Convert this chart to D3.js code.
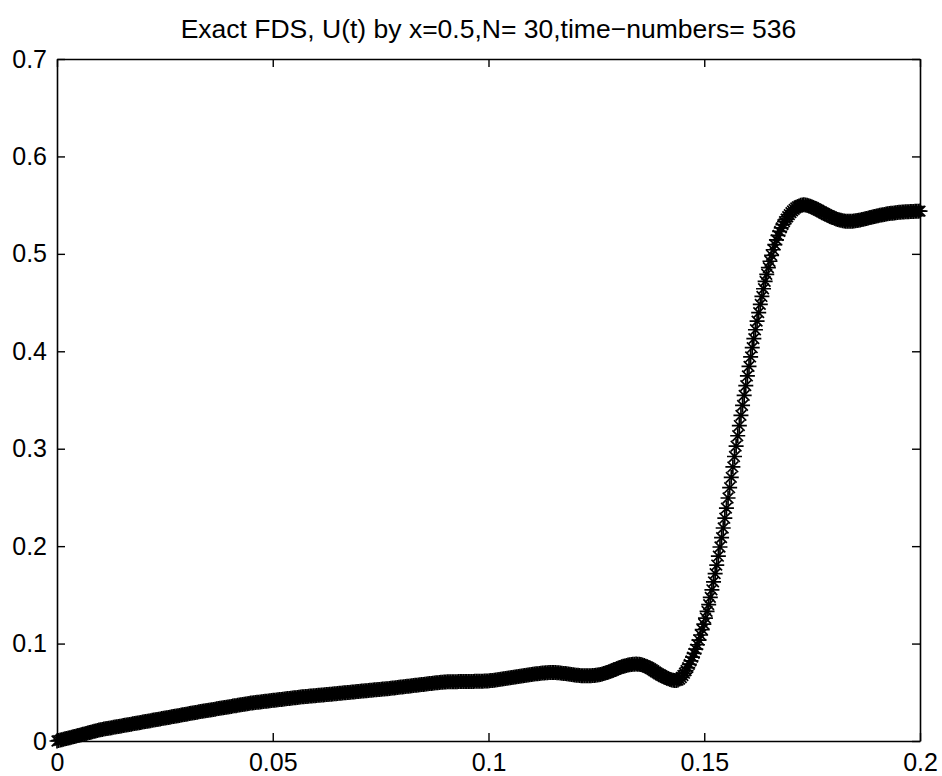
<!DOCTYPE html>
<html>
<head>
<meta charset="utf-8">
<script src="https://cdn.jsdelivr.net/npm/d3@7"></script>
<style>
  html, body { margin: 0; padding: 0; background: #fff; }
  svg { display: block; }
  text { font-family: "Liberation Sans", Arial, Helvetica, sans-serif; fill: #000; }
</style>
</head>
<body>
<svg id="chart" width="942" height="776"></svg>
<script>
// Solution U(t) at x = 0.5, sampled on 536 equally spaced time levels over [0, 0.2]
const timeNumbers = 536;
const tEnd = 0.2;

const uValues = [
  0.0000,0.0004,0.0009,0.0013,0.0017,0.0022,0.0026,0.0030,0.0034,0.0039,
  0.0043,0.0047,0.0052,0.0056,0.0060,0.0065,0.0069,0.0073,0.0077,0.0082,
  0.0086,0.0090,0.0095,0.0099,0.0103,0.0108,0.0112,0.0116,0.0119,0.0122,
  0.0125,0.0128,0.0131,0.0134,0.0137,0.0140,0.0143,0.0146,0.0149,0.0152,
  0.0155,0.0158,0.0161,0.0164,0.0167,0.0170,0.0173,0.0176,0.0179,0.0182,
  0.0185,0.0188,0.0191,0.0194,0.0197,0.0200,0.0203,0.0206,0.0209,0.0212,
  0.0215,0.0218,0.0221,0.0224,0.0227,0.0230,0.0233,0.0236,0.0239,0.0242,
  0.0245,0.0248,0.0251,0.0254,0.0257,0.0260,0.0263,0.0266,0.0269,0.0272,
  0.0275,0.0278,0.0281,0.0284,0.0287,0.0290,0.0293,0.0296,0.0299,0.0302,
  0.0305,0.0307,0.0310,0.0313,0.0316,0.0319,0.0321,0.0324,0.0327,0.0330,
  0.0333,0.0335,0.0338,0.0341,0.0344,0.0347,0.0349,0.0352,0.0355,0.0358,
  0.0361,0.0363,0.0366,0.0369,0.0372,0.0375,0.0377,0.0380,0.0383,0.0386,
  0.0389,0.0391,0.0393,0.0395,0.0397,0.0399,0.0401,0.0403,0.0405,0.0407,
  0.0409,0.0411,0.0413,0.0415,0.0417,0.0419,0.0421,0.0423,0.0425,0.0427,
  0.0429,0.0431,0.0433,0.0435,0.0437,0.0439,0.0441,0.0443,0.0445,0.0447,
  0.0449,0.0451,0.0453,0.0454,0.0456,0.0457,0.0459,0.0461,0.0462,0.0464,
  0.0465,0.0467,0.0469,0.0470,0.0472,0.0473,0.0475,0.0477,0.0478,0.0480,
  0.0481,0.0483,0.0485,0.0486,0.0488,0.0489,0.0491,0.0493,0.0494,0.0496,
  0.0497,0.0499,0.0501,0.0502,0.0504,0.0505,0.0507,0.0509,0.0510,0.0512,
  0.0513,0.0515,0.0517,0.0518,0.0520,0.0521,0.0523,0.0525,0.0526,0.0528,
  0.0529,0.0531,0.0533,0.0534,0.0536,0.0537,0.0539,0.0541,0.0543,0.0545,
  0.0547,0.0549,0.0551,0.0553,0.0555,0.0557,0.0559,0.0561,0.0563,0.0565,
  0.0567,0.0569,0.0571,0.0573,0.0575,0.0577,0.0579,0.0581,0.0583,0.0585,
  0.0587,0.0589,0.0591,0.0593,0.0595,0.0597,0.0599,0.0601,0.0603,0.0604,
  0.0605,0.0606,0.0607,0.0607,0.0608,0.0608,0.0609,0.0609,0.0609,0.0610,
  0.0610,0.0610,0.0610,0.0610,0.0611,0.0611,0.0611,0.0611,0.0611,0.0612,
  0.0612,0.0612,0.0613,0.0613,0.0614,0.0615,0.0616,0.0617,0.0618,0.0620,
  0.0622,0.0624,0.0626,0.0628,0.0631,0.0633,0.0636,0.0638,0.0641,0.0643,
  0.0646,0.0649,0.0651,0.0654,0.0657,0.0659,0.0662,0.0665,0.0667,0.0670,
  0.0672,0.0675,0.0677,0.0680,0.0682,0.0685,0.0687,0.0689,0.0691,0.0693,
  0.0695,0.0697,0.0699,0.0700,0.0701,0.0702,0.0703,0.0703,0.0703,0.0702,
  0.0701,0.0700,0.0698,0.0696,0.0694,0.0692,0.0690,0.0687,0.0685,0.0682,
  0.0680,0.0678,0.0676,0.0674,0.0672,0.0671,0.0670,0.0669,0.0669,0.0669,
  0.0670,0.0671,0.0673,0.0673,0.0675,0.0677,0.0680,0.0683,0.0687,0.0692,
  0.0697,0.0702,0.0708,0.0715,0.0721,0.0728,0.0735,0.0742,0.0749,0.0755,
  0.0761,0.0766,0.0771,0.0776,0.0780,0.0783,0.0786,0.0788,0.0789,0.0790,
  0.0789,0.0787,0.0784,0.0780,0.0774,0.0767,0.0760,0.0752,0.0743,0.0732,
  0.0721,0.0710,0.0699,0.0688,0.0680,0.0670,0.0661,0.0653,0.0645,0.0638,
  0.0632,0.0627,0.0624,0.0622,0.0622,0.0626,0.0636,0.0652,0.0672,0.0696,
  0.0723,0.0753,0.0786,0.0822,0.0860,0.0900,0.0942,0.0988,0.1036,0.1088,
  0.1143,0.1200,0.1262,0.1330,0.1400,0.1474,0.1552,0.1633,0.1718,0.1806,
  0.1897,0.1991,0.2087,0.2186,0.2287,0.2390,0.2494,0.2600,0.2706,0.2813,
  0.2920,0.3027,0.3133,0.3238,0.3342,0.3445,0.3547,0.3648,0.3747,0.3845,
  0.3942,0.4037,0.4130,0.4221,0.4310,0.4397,0.4481,0.4563,0.4642,0.4718,
  0.4790,0.4859,0.4924,0.4985,0.5042,0.5095,0.5144,0.5189,0.5230,0.5267,
  0.5300,0.5330,0.5357,0.5381,0.5403,0.5423,0.5441,0.5457,0.5471,0.5483,
  0.5492,0.5498,0.5502,0.5503,0.5502,0.5499,0.5494,0.5488,0.5481,0.5473,
  0.5465,0.5457,0.5448,0.5439,0.5430,0.5421,0.5412,0.5403,0.5395,0.5387,
  0.5379,0.5372,0.5365,0.5359,0.5353,0.5348,0.5344,0.5340,0.5337,0.5335,
  0.5334,0.5334,0.5334,0.5335,0.5337,0.5339,0.5342,0.5345,0.5348,0.5352,
  0.5356,0.5360,0.5364,0.5368,0.5372,0.5376,0.5380,0.5384,0.5388,0.5392,
  0.5396,0.5399,0.5402,0.5405,0.5408,0.5411,0.5414,0.5416,0.5418,0.5420,
  0.5422,0.5424,0.5426,0.5428,0.5429,0.5430,0.5431,0.5432,0.5433,0.5434,
  0.5435,0.5436,0.5437,0.5438,0.5438,0.5439
];

// time levels t_k = k * tEnd / (timeNumbers - 1)
const tValues = d3.range(timeNumbers).map(k => k * tEnd / (timeNumbers - 1));

const xTicks = [0, 0.05, 0.1, 0.15, 0.2];
const xTickLabels = ["0", "0.05", "0.1", "0.15", "0.2"];
const yTicks = [0, 0.1, 0.2, 0.3, 0.4, 0.5, 0.6, 0.7];
const yTickLabels = ["0", "0.1", "0.2", "0.3", "0.4", "0.5", "0.6", "0.7"];
const titleText = "Exact FDS, U(t) by x=0.5,N= 30,time\u2212numbers= 536";

const svg = d3.select("#chart");
const box = { left: 57, right: 920, top: 59, bottom: 741 };

const x = d3.scaleLinear().domain([0, 0.2]).range([box.left, box.right]);
const y = d3.scaleLinear().domain([0, 0.7]).range([box.bottom, box.top]);

const fontSize = 25;
const titleSize = 26.5;
const tickLen = 8;

// markers: MATLAB-style asterisk (+ and x overlaid)
const r = 7.5, d = 5.3;
const asterisk = `M${-r},0H${r}M0,${-r}V${r}M${-d},${-d}L${d},${d}M${-d},${d}L${d},${-d}`;

const points = tValues.map((t, i) => ({ t, u: uValues[i] }));

svg.append("defs").append("clipPath").attr("id", "plotbox")
  .append("rect")
  .attr("x", box.left - 10).attr("y", box.top)
  .attr("width", box.right - box.left + 20).attr("height", box.bottom - box.top + 12);

svg.append("g")
  .attr("clip-path", "url(#plotbox)")
  .selectAll("path.m")
  .data(points)
  .join("path")
  .attr("class", "m")
  .attr("transform", p => `translate(${x(p.t)},${y(p.u)})`)
  .attr("d", asterisk)
  .attr("fill", "none")
  .attr("stroke", "#000")
  .attr("stroke-width", 1.7);

// axes: inward ticks on all four sides
function styleAxis(g) {
  g.selectAll(".domain").attr("stroke", "#000").attr("stroke-width", 1.6);
  g.selectAll(".tick line").attr("stroke", "#000").attr("stroke-width", 1.4);
  g.selectAll("text").attr("font-size", fontSize).attr("font-family", null).attr("fill", "#000");
}

svg.append("g")
  .attr("transform", `translate(0,${box.bottom})`)
  .call(d3.axisBottom(x).tickValues(xTicks).tickFormat((v, i) => xTickLabels[i])
    .tickSizeInner(-tickLen).tickSizeOuter(0).tickPadding(12))
  .call(styleAxis);

svg.append("g")
  .attr("transform", `translate(${box.left},0)`)
  .call(d3.axisLeft(y).tickValues(yTicks).tickFormat((v, i) => yTickLabels[i])
    .tickSizeInner(-tickLen).tickSizeOuter(0).tickPadding(10))
  .call(styleAxis);

svg.append("g")
  .attr("transform", `translate(0,${box.top})`)
  .call(d3.axisTop(x).tickValues(xTicks).tickFormat("")
    .tickSizeInner(-tickLen).tickSizeOuter(0))
  .call(styleAxis);

svg.append("g")
  .attr("transform", `translate(${box.right},0)`)
  .call(d3.axisRight(y).tickValues(yTicks).tickFormat("")
    .tickSizeInner(-tickLen).tickSizeOuter(0))
  .call(styleAxis);

svg.append("text")
  .attr("x", (box.left + box.right) / 2)
  .attr("y", 37.5)
  .attr("text-anchor", "middle")
  .attr("font-size", titleSize)
  .text(titleText);
</script>
</body>
</html>
